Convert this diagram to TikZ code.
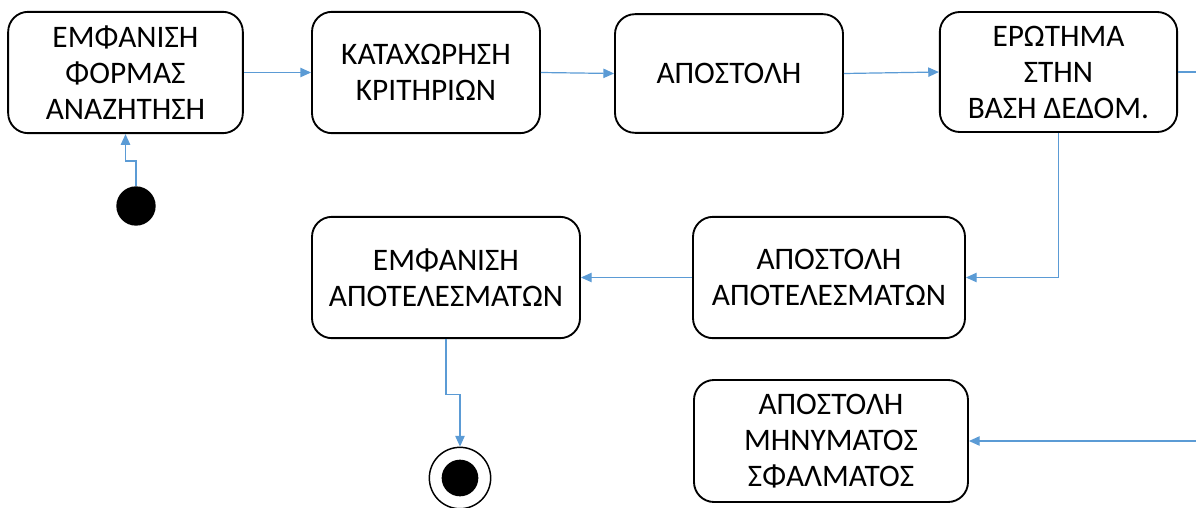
\documentclass[tikz,border=0pt]{standalone}
\usepackage{fontspec}
\setmainfont{Carlito}
\usepackage{xcolor}
\usetikzlibrary{arrows.meta,positioning}
\definecolor{flowblue}{HTML}{5B9BD5}

\begin{document}
\begin{tikzpicture}[x=0.75pt,y=-0.75pt,
state/.style={draw,line width=1.4pt,rounded corners=15pt,align=center,
    minimum height=91pt,inner sep=2pt,
    font=\fontsize{23.5}{27}\selectfont},
flow/.style={draw=flowblue,line width=0.9pt,-{Triangle[length=8pt,width=7pt]}}]
\useasboundingbox (0,0) rectangle (1196,507);
\node (showform) [state,minimum width=176pt] at (125.5,72.5) {ΕΜΦΑΝΙΣΗ\\ΦΟΡΜΑΣ\\ΑΝΑΖΗΤΗΣΗ};
\node (criteria) [state,minimum width=171pt] at (426,72.5) {ΚΑΤΑΧΩΡΗΣΗ\\ΚΡΙΤΗΡΙΩΝ};
\node (submit) [state,minimum width=171pt,minimum height=89pt] at (729,73.5) {ΑΠΟΣΤΟΛΗ};
\node (dbquery) [state,minimum width=178pt,minimum height=90pt] at (1058.5,72) {ΕΡΩΤΗΜΑ\\ΣΤΗΝ\\ΒΑΣΗ ΔΕΔΟΜ.};
\node (sendres) [state,minimum width=204pt] at (829,277.5) {ΑΠΟΣΤΟΛΗ\\ΑΠΟΤΕΛΕΣΜΑΤΩΝ};
\node (showres) [state,minimum width=201pt] at (446,277.5) {ΕΜΦΑΝΙΣΗ\\ΑΠΟΤΕΛΕΣΜΑΤΩΝ};
\node (senderr) [state,minimum width=205.5pt,minimum height=91.5pt] at (831,441) {ΑΠΟΣΤΟΛΗ\\ΜΗΝΥΜΑΤΟΣ\\ΣΦΑΛΜΑΤΟΣ};

\node (start) [circle,fill=black,minimum size=29.5pt,inner sep=0pt] at (136,206) {};
\node (final) [circle,draw,line width=1.1pt,minimum size=46pt,inner sep=0pt] at (460,478) {};
\node (finaldot) [circle,fill=black,minimum size=27.5pt,inner sep=0pt] at (final.center) {};

\coordinate (dbexit) at (1196,72);
\coordinate (errin) at (1196,441);

\draw [flow] (start.north) -- ++(0,-25) -| (showform.south);
\draw [flow] (showform.east) -- (criteria.west);
\draw [flow] (criteria.east) -- (submit.west);
\draw [flow] (submit.east) -- (dbquery.west);
\draw [flow,-] (dbquery.east) -- (dbexit);
\draw [flow] (dbquery.south) |- (sendres.east);
\draw [flow] (sendres.west) -- (showres.east);
\draw [flow] (showres.south) -- ++(0,55) -| (final.north);
\draw [flow] (errin) -- (senderr.east);
\end{tikzpicture}
\end{document}
